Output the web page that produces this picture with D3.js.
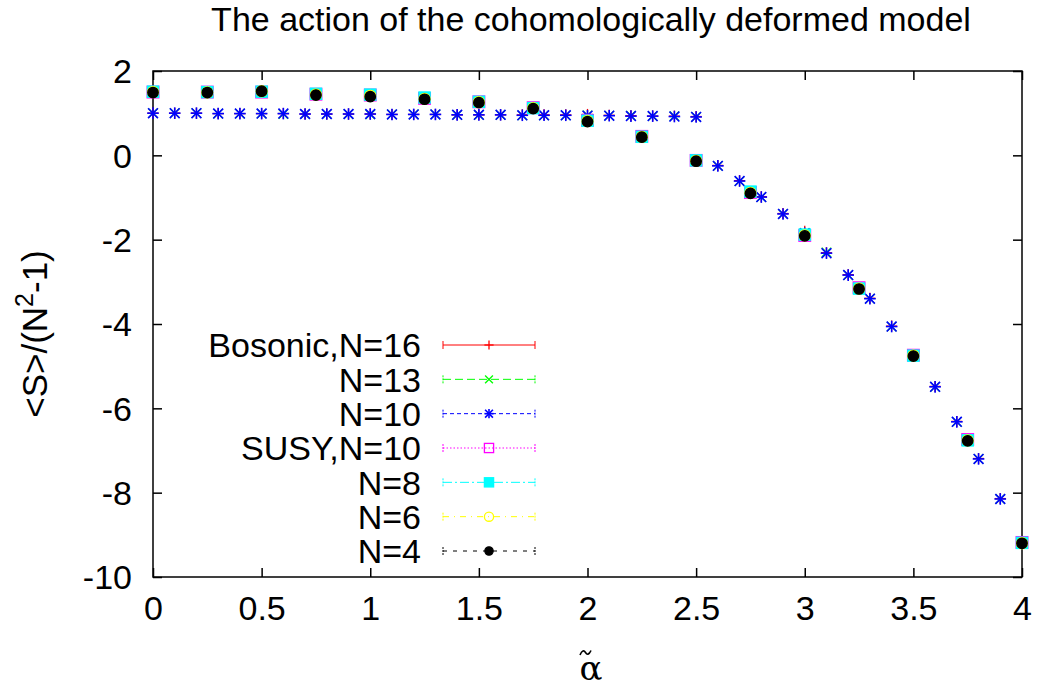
<!DOCTYPE html>
<html>
<head>
<meta charset="utf-8">
<script src="https://cdn.jsdelivr.net/npm/d3@7"></script>
<style>
  html, body { margin: 0; padding: 0; background: #fff; }
  svg { display: block; }
  text { font-family: "Liberation Sans", Arial, sans-serif; fill: #000; }
</style>
</head>
<body>
<svg id="chart" width="1041" height="689"></svg>
<script>
// ---------------- data ----------------
const titleText = "The action of the cohomologically deformed model";
const xTicks = [0, 0.5, 1, 1.5, 2, 2.5, 3, 3.5, 4];
const xTickLabels = ["0", "0.5", "1", "1.5", "2", "2.5", "3", "3.5", "4"];
const yTicks = [2, 0, -2, -4, -6, -8, -10];
const yTickLabels = ["2", "0", "-2", "-4", "-6", "-8", "-10"];

// fine grid (bosonic runs)
const xFine = [0, 0.1, 0.2, 0.3, 0.4, 0.5, 0.6, 0.7, 0.8, 0.9, 1.0, 1.1, 1.2, 1.3, 1.4, 1.5, 1.6, 1.7, 1.8, 1.9, 2.0,
               2.1, 2.2, 2.3, 2.4, 2.5, 2.6, 2.7, 2.8, 2.9, 3.0, 3.1, 3.2, 3.3, 3.4, 3.5, 3.6, 3.7, 3.8, 3.9, 4.0];
const bosN16 = [1.00, 1.00, 1.00, 0.99, 0.99, 0.99, 0.99, 0.98, 0.98, 0.98, 0.98, 0.97, 0.97, 0.97, 0.96, 0.96, 0.96, 0.96, 0.96, 0.96, 0.97,
                0.95, 0.94, 0.93, 0.93, 0.92, -0.24, -0.60, -0.98, -1.38, -1.80, -2.31, -2.83, -3.39, -4.05, -4.74, -5.48, -6.31, -7.19, -8.14, -9.19];
const bosN13 = [1.00, 1.00, 1.00, 0.99, 0.99, 0.99, 0.98, 0.98, 0.98, 0.98, 0.97, 0.97, 0.97, 0.97, 0.96, 0.96, 0.96, 0.95, 0.95, 0.95, 0.95,
                0.94, 0.94, 0.93, 0.93, 0.91, -0.25, -0.61, -0.99, -1.39, -1.84, -2.30, -2.84, -3.40, -4.06, -4.75, -5.49, -6.32, -7.20, -8.15, -9.20];
const bosN10 = [1.00, 1.00, 1.00, 0.99, 0.99, 0.99, 0.99, 0.98, 0.98, 0.98, 0.98, 0.97, 0.97, 0.97, 0.96, 0.96, 0.96, 0.95, 0.95, 0.95, 0.94,
                0.94, 0.93, 0.93, 0.92, 0.91, -0.25, -0.61, -0.99, -1.39, -1.85, -2.32, -2.84, -3.40, -4.06, -4.75, -5.49, -6.32, -7.20, -8.15, -9.20];

// coarse grid (cohomologically deformed / SUSY runs)
const xCoarse = [0, 0.25, 0.5, 0.75, 1.0, 1.25, 1.5, 1.75, 2.0, 2.25, 2.5, 2.75, 3.0, 3.25, 3.5, 3.75, 4.0];
const susyN10 = [1.50, 1.50, 1.50, 1.45, 1.43, 1.35, 1.27, 1.13, 0.83, 0.45, -0.12, -0.88, -1.90, -3.14, -4.74, -6.74, -9.18];
const susyN8  = [1.51, 1.50, 1.51, 1.46, 1.44, 1.37, 1.27, 1.12, 0.82, 0.44, -0.12, -0.86, -1.88, -3.16, -4.75, -6.76, -9.19];
const susyN6  = [1.50, 1.49, 1.52, 1.44, 1.41, 1.34, 1.26, 1.12, 0.81, 0.44, -0.13, -0.89, -1.90, -3.16, -4.75, -6.76, -9.20];
const susyN4  = [1.49, 1.49, 1.52, 1.43, 1.39, 1.33, 1.25, 1.11, 0.80, 0.43, -0.14, -0.90, -1.91, -3.17, -4.76, -6.77, -9.20];

const seriesNames = ["Bosonic,N=16", "N=13", "N=10", "SUSY,N=10", "N=8", "N=6", "N=4"];

// ---------------- styles ----------------
const series = [
  { name: seriesNames[0], xs: xFine,   ys: bosN16,  color: "#ff0000", marker: "plus",     dash: null },
  { name: seriesNames[1], xs: xFine,   ys: bosN13,  color: "#00ff00", marker: "cross",    dash: "8,4" },
  { name: seriesNames[2], xs: xFine,   ys: bosN10,  color: "#0000ff", marker: "star",     dash: "4,3" },
  { name: seriesNames[3], xs: xCoarse, ys: susyN10, color: "#ff00ff", marker: "square",   dash: "1.5,2" },
  { name: seriesNames[4], xs: xCoarse, ys: susyN8,  color: "#00ffff", marker: "fsquare",  dash: "9,3,2,3" },
  { name: seriesNames[5], xs: xCoarse, ys: susyN6,  color: "#ffff00", marker: "circle",   dash: "6,5,1,5" },
  { name: seriesNames[6], xs: xCoarse, ys: susyN4,  color: "#000000", marker: "fcircle",  dash: "4,6" }
];

const plot = { left: 153, right: 1022, top: 71, bottom: 577 };
const svg = d3.select("#chart");

const x = d3.scaleLinear().domain([0, 4]).range([plot.left, plot.right]);
const y = d3.scaleLinear().domain([-10, 2]).range([plot.bottom, plot.top]);

const FS = 34;
const tickLen = 9;

// title
svg.append("text")
  .attr("x", 591)
  .attr("y", 31)
  .attr("text-anchor", "middle")
  .style("font-size", "34px")
  .text(titleText);

// axes via d3 axis generators (inward ticks, mirrored)
const xAxisB = d3.axisBottom(x).tickValues(xTicks).tickSize(-tickLen).tickFormat((d, i) => xTickLabels[i]);
const xAxisT = d3.axisTop(x).tickValues(xTicks).tickSize(-tickLen).tickFormat("");
const yAxisL = d3.axisLeft(y).tickValues(yTicks).tickSize(-tickLen).tickFormat((d, i) => yTickLabels[i]).tickPadding(21);
const yAxisR = d3.axisRight(y).tickValues(yTicks).tickSize(-tickLen).tickFormat("");

function styleAxis(g) {
  g.select(".domain").remove();
  g.selectAll(".tick line").attr("stroke", "#000").attr("stroke-width", 1.5);
  g.selectAll(".tick text").style("font-size", FS + "px").attr("fill", "#000")
    .style("font-family", '"Liberation Sans", Arial, sans-serif');
}

svg.append("g").attr("transform", `translate(0,${plot.bottom})`).call(xAxisB).call(styleAxis)
  .selectAll(".tick text").attr("y", 43).attr("dy", null);
svg.append("g").attr("transform", `translate(0,${plot.top})`).call(xAxisT).call(styleAxis);
svg.append("g").attr("transform", `translate(${plot.left},0)`).call(yAxisL).call(styleAxis)
  .selectAll(".tick text").attr("dy", "0.35em");
svg.append("g").attr("transform", `translate(${plot.right},0)`).call(yAxisR).call(styleAxis);

// border
svg.append("rect")
  .attr("x", plot.left).attr("y", plot.top)
  .attr("width", plot.right - plot.left).attr("height", plot.bottom - plot.top)
  .attr("fill", "none").attr("stroke", "#000").attr("stroke-width", 1.5);

// axis labels
svg.append("text")
  .attr("transform", `translate(47,${(plot.top + plot.bottom) / 2 + 10}) rotate(-90)`)
  .attr("text-anchor", "middle")
  .style("font-size", "35px")
  .call(t => {
    t.append("tspan").text("<S>/(N");
    t.append("tspan").attr("dy", -14).style("font-size", "25px").text("2");
    t.append("tspan").attr("dy", 14).text("-1)");
  });

svg.append("text")
  .attr("x", 591).attr("y", 680)
  .attr("text-anchor", "middle")
  .style("font-family", '"DejaVu Serif", "Liberation Serif", serif')
  .style("font-size", "34px")
  .text("α");
// tilde accent drawn as a path
const tp = d3.path();
tp.moveTo(580, 655);
tp.bezierCurveTo(582, 650, 584, 650, 585.5, 652.5);
tp.bezierCurveTo(587, 655, 589, 655, 591, 650.5);
svg.append("path").attr("d", tp.toString()).attr("fill", "none").attr("stroke", "#000").attr("stroke-width", 1.6);

// markers
function drawMarker(g, type, cx, cy, color, s) {
  const sw = type === "star" ? 1.6 : 1.3;
  if (type === "plus" || type === "star") {
    g.append("line").attr("x1", cx - s).attr("x2", cx + s).attr("y1", cy).attr("y2", cy).attr("stroke", color).attr("stroke-width", sw);
    g.append("line").attr("x1", cx).attr("x2", cx).attr("y1", cy - s).attr("y2", cy + s).attr("stroke", color).attr("stroke-width", sw);
  }
  if (type === "cross" || type === "star") {
    const d = s * 0.85;
    g.append("line").attr("x1", cx - d).attr("x2", cx + d).attr("y1", cy - d).attr("y2", cy + d).attr("stroke", color).attr("stroke-width", sw);
    g.append("line").attr("x1", cx - d).attr("x2", cx + d).attr("y1", cy + d).attr("y2", cy - d).attr("stroke", color).attr("stroke-width", sw);
  }
  if (type === "square" || type === "fsquare") {
    g.append("rect").attr("x", cx - s).attr("y", cy - s).attr("width", 2 * s).attr("height", 2 * s)
      .attr("fill", type === "fsquare" ? color : "none").attr("stroke", color).attr("stroke-width", sw);
  }
  if (type === "circle" || type === "fcircle") {
    g.append("circle").attr("cx", cx).attr("cy", cy).attr("r", type === "fcircle" ? s * 0.9 : s)
      .attr("fill", type === "fcircle" ? color : "none").attr("stroke", color).attr("stroke-width", sw);
  }
}

const markerSize = { plus: 5.5, cross: 5.5, star: 5.8, square: 5.8, fsquare: 5.6, circle: 5.5, fcircle: 5.8 };

// data points
series.forEach(s => {
  const g = svg.append("g").attr("class", "series");
  s.xs.forEach((xv, i) => {
    drawMarker(g, s.marker, x(xv), y(s.ys[i]), s.color, markerSize[s.marker]);
  });
});

// legend
const legRowY = d3.scaleLinear().domain([0, 6]).range([345, 551]);
const legTextX = 421, legX1 = 443, legX2 = 535, legMid = 489;
series.forEach((s, i) => {
  const yy = legRowY(i);
  const g = svg.append("g").attr("class", "legend");
  g.append("text").attr("x", legTextX).attr("y", yy).attr("dy", "0.36em")
    .attr("text-anchor", "end").style("font-size", FS + "px").text(s.name);
  g.append("line").attr("x1", legX1).attr("x2", legX2).attr("y1", yy).attr("y2", yy)
    .attr("stroke", s.color).attr("stroke-width", 1).attr("stroke-dasharray", s.dash);
  [legX1, legX2].forEach(ex => {
    g.append("line").attr("x1", ex).attr("x2", ex).attr("y1", yy - 4).attr("y2", yy + 4)
      .attr("stroke", s.color).attr("stroke-width", 1).attr("stroke-dasharray", s.dash ? "2,1" : null);
  });
  drawMarker(g, s.marker, legMid, yy, s.color, 4.6);
});
</script>
</body>
</html>
